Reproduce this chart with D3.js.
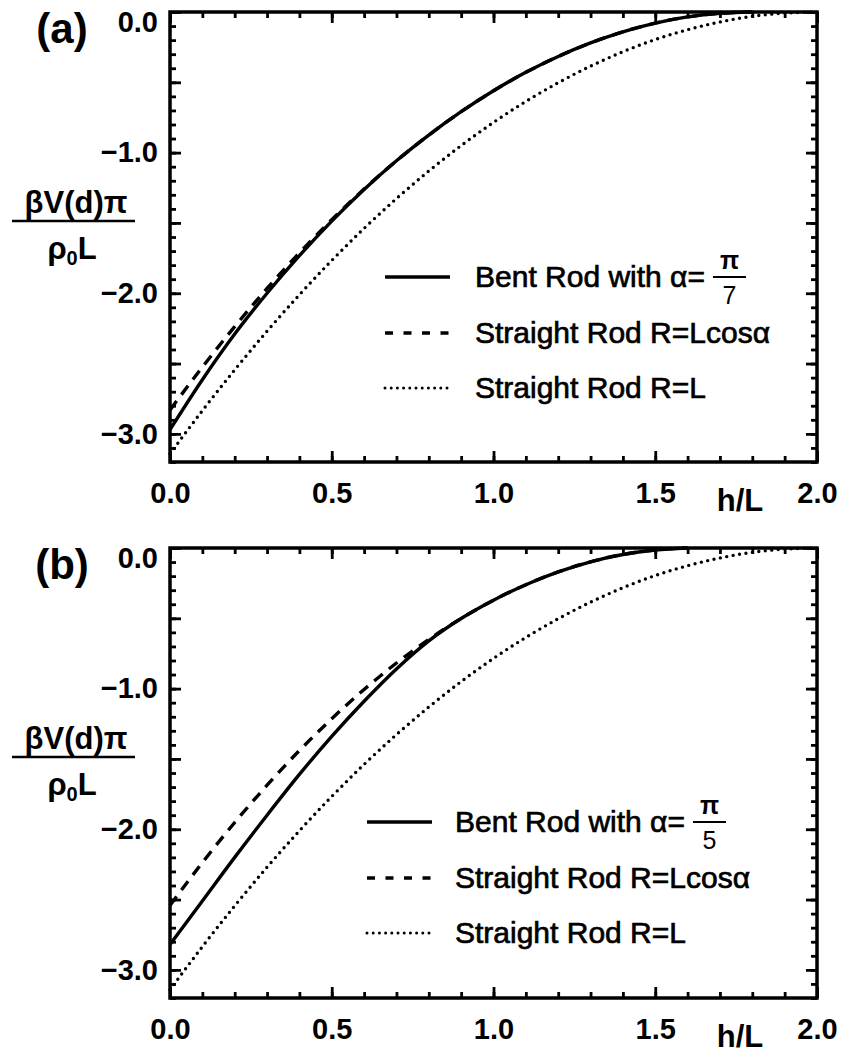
<!DOCTYPE html>
<html lang="en">
<head>
    <meta charset="utf-8">
    <title>Bent rod potential</title>
    <script type="text/javascript" src="https://d3js.org/d3.v7.min.js"></script>
    <style type="text/css">
        body{
            margin: 0px;
            background: #fff;
        }
        svg text{
            font-family: "Liberation Sans", Arial, sans-serif;
            fill: #000;
        }
        .tick line{
            stroke: #000;
            stroke-width: 2.8px;
        }
        .tick text{
            font-size: 29px;
            font-weight: bold;
        }
        .box{
            fill: none;
            stroke: #000;
            stroke-width: 3.5px;
        }
        .curve{
            fill: none;
            stroke: #000;
            stroke-width: 3.4px;
        }
        .legend text{
            font-size: 30px;
        }
    </style>
</head>
<body>
<div id="viz"></div>

<script type="text/javascript">
    // h/L sample points (step 0.1)
    var hValues = [0.0, 0.1, 0.2, 0.3, 0.4, 0.5, 0.6, 0.7, 0.8, 0.9, 1.0,
                   1.1, 1.2, 1.3, 1.4, 1.5, 1.6, 1.7, 1.8, 1.9, 2.0];

    // straight rod R=L (same in both panels)
    var straightL = [-3.142, -2.835, -2.545, -2.270, -2.011, -1.767, -1.539, -1.327, -1.131, -0.950, -0.785,
                     -0.636, -0.503, -0.385, -0.283, -0.196, -0.126, -0.071, -0.031, -0.008, 0.0];

    // panel (a), alpha = pi/7
    var bentA = [-2.97, -2.615, -2.29, -2.00, -1.733, -1.487, -1.262, -1.058, -0.875, -0.709,
                 -0.560, -0.429, -0.316, -0.220, -0.141, -0.079, -0.035, -0.009, 0.0];
    var straightCosA = [-2.830, -2.525, -2.237, -1.966, -1.713, -1.477, -1.259, -1.058, -0.875, -0.709,
                        -0.560, -0.429, -0.316, -0.220, -0.141, -0.079, -0.035, -0.009, 0.0];

    // panel (b), alpha = pi/5
    var bentB = [-2.82, -2.51, -2.20, -1.90, -1.61, -1.34, -1.09, -0.86, -0.66,
                 -0.501, -0.371, -0.261, -0.170, -0.098, -0.046, -0.014, 0.0];
    var straightCosB = [-2.542, -2.237, -1.952, -1.687, -1.440, -1.214, -1.006, -0.818, -0.650,
                        -0.501, -0.371, -0.261, -0.170, -0.098, -0.046, -0.014, 0.0];

    var xMajor = [0.0, 0.5, 1.0, 1.5, 2.0];
    var yMajor = [0.0, -0.5, -1.0, -1.5, -2.0, -2.5, -3.0];
    var yLabels = [0.0, -1.0, -2.0, -3.0];

    var panels = [
        {tag: "(a)", top: 12, bent: bentA, cos: straightCosA, den: "7",
         legX: 385, textX: 475, legY: [265, 321, 376]},
        {tag: "(b)", top: 548, bent: bentB, cos: straightCosB, den: "5",
         legX: 367, textX: 455, legY: [274, 330, 385]}
    ];

    var left = 170, right = 817, plotH = 450;

    var svg = d3.select("#viz").append("svg")
        .attr("width", 841)
        .attr("height", 1059);

    var xMinor = d3.range(0, 21).map(function(i) { return i / 10; });
    var yMinor = d3.range(0, 33).map(function(i) { return -i / 10; });
    var fmt = d3.format(".1f");

    function isLabel(d) {
        return yLabels.some(function(v) { return Math.abs(v - d) < 1e-9; });
    }

    panels.forEach(function(p) {
        var x = d3.scaleLinear().domain([0, 2]).range([left, right]);
        var y = d3.scaleLinear().domain([-3.2, 0]).range([p.top + plotH, p.top]);
        var g = svg.append("g");

        // minor ticks on all four sides, pointing inward
        g.append("g").attr("transform", "translate(0," + (p.top + plotH) + ")")
            .call(d3.axisBottom(x).tickValues(xMinor).tickSize(-6).tickFormat(""));
        g.append("g").attr("transform", "translate(0," + p.top + ")")
            .call(d3.axisTop(x).tickValues(xMinor).tickSize(-6).tickFormat(""));
        g.append("g").attr("transform", "translate(" + left + ",0)")
            .call(d3.axisLeft(y).tickValues(yMinor).tickSize(-6).tickFormat(""));
        g.append("g").attr("transform", "translate(" + right + ",0)")
            .call(d3.axisRight(y).tickValues(yMinor).tickSize(-6).tickFormat(""));

        // major ticks + labels
        g.append("g").attr("transform", "translate(0," + (p.top + plotH) + ")")
            .call(d3.axisBottom(x).tickValues(xMajor).tickSize(-11).tickPadding(20).tickFormat(fmt));
        g.append("g").attr("transform", "translate(0," + p.top + ")")
            .call(d3.axisTop(x).tickValues(xMajor).tickSize(-11).tickFormat(""));
        var yl = g.append("g").attr("transform", "translate(" + left + ",0)")
            .call(d3.axisLeft(y).tickValues(yMajor).tickSize(-11).tickPadding(12)
                .tickFormat(function(d) { return isLabel(d) ? fmt(d) : ""; }));
        yl.selectAll(".tick text").filter(function(d) { return d === 0; })
            .attr("dy", "0.66em");
        g.append("g").attr("transform", "translate(" + right + ",0)")
            .call(d3.axisRight(y).tickValues(yMajor).tickSize(-11).tickFormat(""));

        g.selectAll(".domain").remove();

        g.append("rect").attr("class", "box")
            .attr("x", left).attr("y", p.top)
            .attr("width", right - left).attr("height", plotH);

        // curves
        var line = d3.line()
            .x(function(d, i) { return x(hValues[i]); })
            .y(function(d) { return y(d); })
            .curve(d3.curveMonotoneX);

        g.append("path").attr("class", "curve")
            .attr("d", line(straightL))
            .attr("stroke-dasharray", "0,6.5")
            .attr("stroke-linecap", "round");
        g.append("path").attr("class", "curve")
            .attr("d", line(p.cos))
            .attr("stroke-dasharray", "11,8");
        g.append("path").attr("class", "curve")
            .attr("d", line(p.bent))
            .attr("stroke-width", 3.8);

        // panel tag
        g.append("text")
            .attr("x", 62).attr("y", p.top + 31)
            .attr("text-anchor", "middle")
            .style("font-size", "42px").style("font-weight", "bold")
            .text(p.tag);

        // y title as a fraction
        g.append("text")
            .attr("x", 76).attr("y", p.top + 201)
            .attr("text-anchor", "middle")
            .style("font-size", "31px").style("font-weight", "bold")
            .text("βV(d)π");
        g.append("line")
            .attr("x1", 12).attr("x2", 135)
            .attr("y1", p.top + 209).attr("y2", p.top + 209)
            .attr("stroke", "#000").attr("stroke-width", 2.5);
        var den = g.append("text")
            .attr("x", 72).attr("y", p.top + 247)
            .attr("text-anchor", "middle")
            .style("font-size", "31px").style("font-weight", "bold");
        den.append("tspan").text("ρ");
        den.append("tspan").attr("dy", 6).style("font-size", "20px").text("0");
        den.append("tspan").attr("dy", -6).text("L");

        // x title
        g.append("text")
            .attr("x", 740).attr("y", p.top + 499)
            .attr("text-anchor", "middle")
            .style("font-size", "31px").style("font-weight", "bold")
            .text("h/L");

        // legend
        var leg = g.append("g").attr("class", "legend");
        var dashes = [null, "8,10.5", "0,6.2"];
        var labels = ["Bent Rod with α=", "Straight Rod R=Lcosα", "Straight Rod R=L"];
        labels.forEach(function(lab, i) {
            var ly = p.top + p.legY[i];
            var s = leg.append("line")
                .attr("x1", p.legX).attr("x2", p.legX + 65)
                .attr("y1", ly).attr("y2", ly)
                .attr("stroke", "#000")
                .attr("stroke-width", i === 2 ? 3 : 3.5);
            if (dashes[i]) s.attr("stroke-dasharray", dashes[i]);
            if (i === 2) s.attr("stroke-linecap", "round");
            var t = leg.append("text")
                .attr("x", p.textX).attr("y", ly + 10)
                .style("stroke", "#000").style("stroke-width", 0.7)
                .text(lab);
            if (i === 0) {
                var end = p.textX + t.node().getComputedTextLength() + 8;
                leg.append("line")
                    .attr("x1", end).attr("x2", end + 33)
                    .attr("y1", ly).attr("y2", ly)
                    .attr("stroke", "#000").attr("stroke-width", 2);
                leg.append("text")
                    .attr("x", end + 16.5).attr("y", ly - 8)
                    .attr("text-anchor", "middle")
                    .style("font-size", "25px").style("font-weight", "bold")
                    .text("π");
                leg.append("text")
                    .attr("x", end + 16.5).attr("y", ly + 27)
                    .attr("text-anchor", "middle")
                    .style("font-size", "25px")
                    .text(p.den);
            }
        });
    });
</script>
</body>
</html>
